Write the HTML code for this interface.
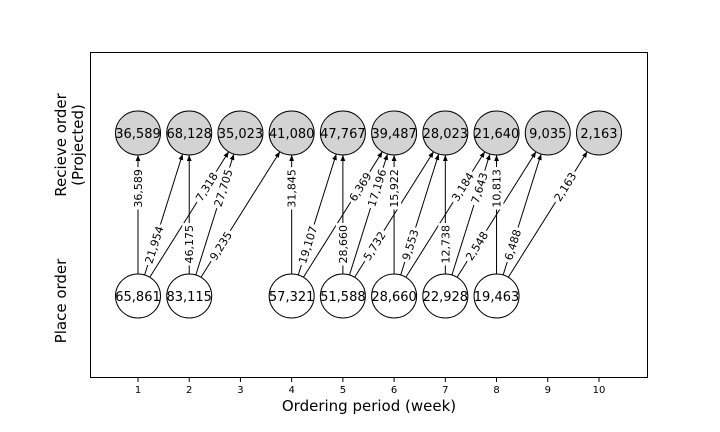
<!DOCTYPE html>
<html><head><meta charset="utf-8"><style>
html,body{margin:0;padding:0;background:#fff;}
svg{display:block;font-family:"DejaVu Sans","Liberation Sans",sans-serif;}
</style></head><body>
<svg id="chart" width="720" height="432" viewBox="0 0 720 432">
<defs><marker id="ah" viewBox="0 0 10 10" refX="10" refY="5" markerWidth="6" markerHeight="6" orient="auto"><path d="M0,1 L10,5 L0,9 z" fill="#000"/></marker></defs>
<rect x="90.5" y="52.5" width="557" height="325" fill="#fff" stroke="#000" stroke-width="1"/>
<g id="arrows"></g><g id="nodes"></g><g id="ticks"></g>
<text x="369" y="411" font-size="15" text-anchor="middle">Ordering period (week)</text>
<g transform="translate(66,145) rotate(-90)"><text x="0" y="0" font-size="15" text-anchor="middle">Recieve order</text><text x="0" y="17" font-size="15" text-anchor="middle">(Projected)</text></g>
<text transform="translate(66,301) rotate(-90)" font-size="15" text-anchor="middle">Place order</text>
</svg>
<script>
const weeks=[1,2,3,4,5,6,7,8,9,10];
const receiveTotals=[36589,68128,35023,41080,47767,39487,28023,21640,9035,2163];
const placeWeeks=[1,2,4,5,6,7,8];
const placeTotals=[65861,83115,57321,51588,28660,22928,19463];
const flowFrom=[1,1,1,2,2,2,4,4,4,5,5,5,6,6,6,7,7,7,8,8,8];
const flowTo=[1,2,3,2,3,4,4,5,6,5,6,7,6,7,8,7,8,9,8,9,10];
const flowValues=[36589,21954,7318,46175,27705,9235,31845,19107,6369,28660,17196,5732,15922,9553,3184,12738,7643,2548,10813,6488,2163];
const NS="http://www.w3.org/2000/svg";
const xS=w=>138+(w-1)*51.22;
const yTop=133,yBot=296,R=22;
const fmt=v=>v.toLocaleString('en-US');
function mk(t,a,p){const e=document.createElementNS(NS,t);for(const k in a)e.setAttribute(k,a[k]);p.appendChild(e);return e;}
const gA=document.getElementById('arrows'),gN=document.getElementById('nodes'),gT=document.getElementById('ticks');
weeks.forEach(w=>{const x=xS(w);
 const l=mk('line',{x1:x,x2:x,y1:378,y2:382,stroke:'#000'},gT);
 
 
 const t=mk('text',{x:x,y:393,'font-size':10,'text-anchor':'middle'},gT);t.textContent=w;
 
 
});
flowValues.forEach((v,i)=>{
 const x1=xS(flowFrom[i]),x2=xS(flowTo[i]);
 const dx=x2-x1,dy=yTop-yBot,L=Math.hypot(dx,dy),ux=dx/L,uy=dy/L;
 const sx=x1+ux*R,sy=yBot+uy*R,ex=x2-ux*R,ey=yTop-uy*R;
 const g=mk('g',{},gA);
 
 
 mk('line',{x1:sx,y1:sy,x2:ex,y2:ey,stroke:'#000','stroke-width':1,'marker-end':'url(#ah)'},g);
 const f=(i%2===0)?0.72:0.25;
 const lx=sx+(ex-sx)*f,ly=sy+(ey-sy)*f;
 let ang=Math.atan2(ey-sy,ex-sx)*180/Math.PI;
 const tg=mk('g',{transform:`translate(${lx},${ly}) rotate(${ang})`},g);
 const txt=fmt(v);const tw=txt.length*6.4;
 mk('rect',{x:-tw/2-2,y:-7,width:tw+4,height:14,fill:'#fff'},tg);
 const t=mk('text',{x:0,y:4,'font-size':11,'text-anchor':'middle'},tg);t.textContent=txt;
 
 
});
receiveTotals.forEach((v,i)=>{const x=xS(weeks[i]);
 const c=mk('ellipse',{cx:x,cy:yTop,rx:22.5,ry:22,fill:'#d3d3d3',stroke:'#000'},gN);
 
 
 const t=mk('text',{x:x,y:yTop+5,'font-size':13,'text-anchor':'middle'},gN);t.textContent=fmt(v);
 
 
});
placeTotals.forEach((v,i)=>{const x=xS(placeWeeks[i]);
 const c=mk('ellipse',{cx:x,cy:yBot,rx:22.5,ry:22,fill:'#fff',stroke:'#000'},gN);
 
 
 const t=mk('text',{x:x,y:yBot+5,'font-size':13,'text-anchor':'middle'},gN);t.textContent=fmt(v);
 
 
});
</script>
</body></html>
